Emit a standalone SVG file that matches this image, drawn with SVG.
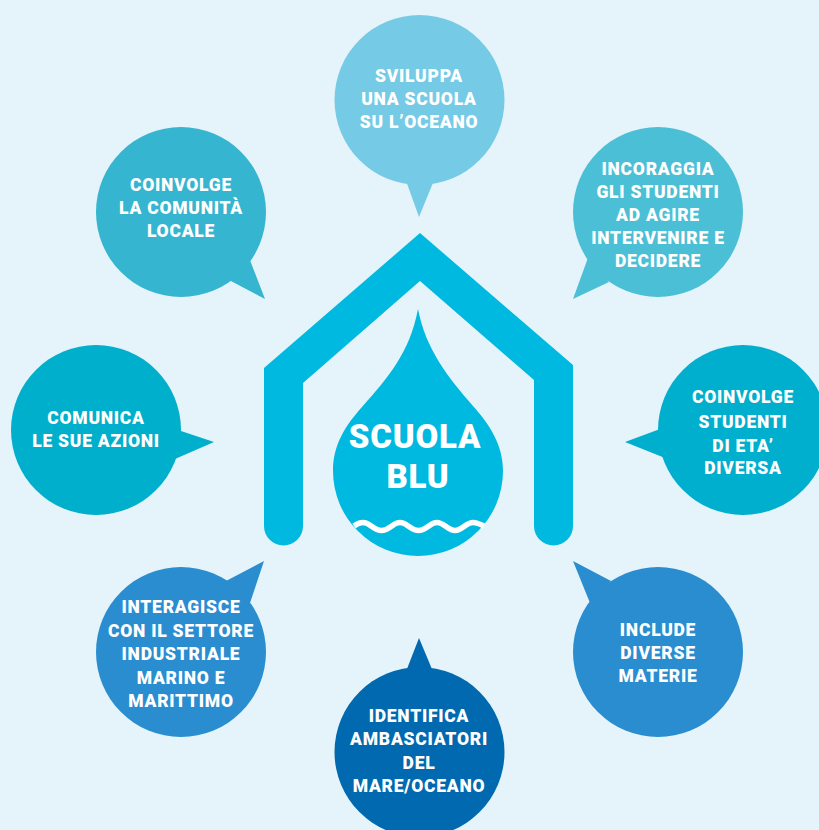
<svg xmlns="http://www.w3.org/2000/svg" width="819" height="830" viewBox="0 0 819 830">
<style>
text{font-family:Roboto,"Liberation Sans",sans-serif;font-weight:900;fill:#fff;text-anchor:middle}
.l{font-size:17.5px;letter-spacing:.75px}
.t{font-size:33px;letter-spacing:.8px}
</style>
<rect width="819" height="830" fill="#e5f4fa"/>
<g id="house"><path d="M420 233L573 365V526A19.500 19.500 0 0 1 534 526V380L420 281L303 383V526A19.500 19.500 0 0 1 264 526V368Z" fill="#00b9e0"/></g>
<g id="drop">
<path d="M418 309C410 352 388 378 362 407C345 426 333 445 333 471A85 85 0 0 0 503 471C503 445 490 425 473 406C448 377 426 350 418 309Z" fill="#00b9e0"/>
<path d="M354 526C358 523 360 522.500 363 522.500C370 522.500 374 530.500 381.500 530.500S393 522.500 400 522.500S411 530.500 418.500 530.500S430 522.500 437 522.500S448 530.500 455 530.500S466 522.500 473 522.500C477 522.500 480 524 484 526" fill="none" stroke="#fff" stroke-width="5.500"/>
<text class="t" x="415" y="448">SCUOLA</text><text class="t" x="418" y="488">BLU</text>
</g>
<g id="n-top"><circle cx="419.500" cy="100" r="85" fill="#75cbe5"/><path d="M405 178L419 217L435 178Z" fill="#75cbe5"/>
<text class="l" x="419" y="82">SVILUPPA</text><text class="l" x="419" y="105">UNA SCUOLA</text><text class="l" x="419" y="128">SU L’OCEANO</text></g>
<g id="n-upleft"><circle cx="181" cy="212" r="85" fill="#35b5cf"/><path d="M248 255L265 299L229 280Z" fill="#35b5cf"/>
<text class="l" x="181" y="191">COINVOLGE</text><text class="l" x="181" y="214">LA COMUNITÀ</text><text class="l" x="181" y="237">LOCALE</text></g>
<g id="n-upright"><circle cx="658" cy="212" r="85" fill="#4bbfd5"/><path d="M589 255L573 299L609 282Z" fill="#4bbfd5"/>
<text class="l" x="658" y="175">INCORAGGIA</text><text class="l" x="658" y="198">GLI STUDENTI</text><text class="l" x="658" y="221">AD AGIRE</text><text class="l" x="658" y="244">INTERVENIRE E</text><text class="l" x="658" y="267">DECIDERE</text></g>
<g id="n-left"><circle cx="96" cy="430" r="85" fill="#00afcb"/><path d="M178 430L214 442L175 459Z" fill="#00afcb"/>
<text class="l" x="96" y="424">COMUNICA</text><text class="l" x="96" y="447">LE SUE AZIONI</text></g>
<g id="n-right"><circle cx="743" cy="430" r="85" fill="#00afcd"/><path d="M660 429L625 442L665 458Z" fill="#00afcd"/>
<text class="l" x="743" y="403">COINVOLGE</text><text class="l" x="743" y="428">STUDENTI</text><text class="l" x="743" y="452">DI ETA’</text><text class="l" x="743" y="474">DIVERSA</text></g>
<g id="n-lowleft"><circle cx="181" cy="652" r="85" fill="#2a8dcf"/><path d="M226 581L264 561L250 603Z" fill="#2a8dcf"/>
<text class="l" x="181" y="613">INTERAGISCE</text><text class="l" x="181" y="637">CON IL SETTORE</text><text class="l" x="181" y="660">INDUSTRIALE</text><text class="l" x="181" y="684">MARINO E</text><text class="l" x="181" y="707">MARITTIMO</text></g>
<g id="n-lowright"><circle cx="658" cy="652" r="85" fill="#2a8dcf"/><path d="M611 581L573 561L590 603Z" fill="#2a8dcf"/>
<text class="l" x="658" y="636">INCLUDE</text><text class="l" x="658" y="659">DIVERSE</text><text class="l" x="658" y="682">MATERIE</text></g>
<g id="n-bottom"><circle cx="419.500" cy="752" r="85" fill="#0069af"/><path d="M405 674L419 638L434 674Z" fill="#0069af"/>
<text class="l" x="419" y="722">IDENTIFICA</text><text class="l" x="419" y="745">AMBASCIATORI</text><text class="l" x="419" y="769">DEL</text><text class="l" x="419" y="792">MARE/OCEANO</text></g>
</svg>
